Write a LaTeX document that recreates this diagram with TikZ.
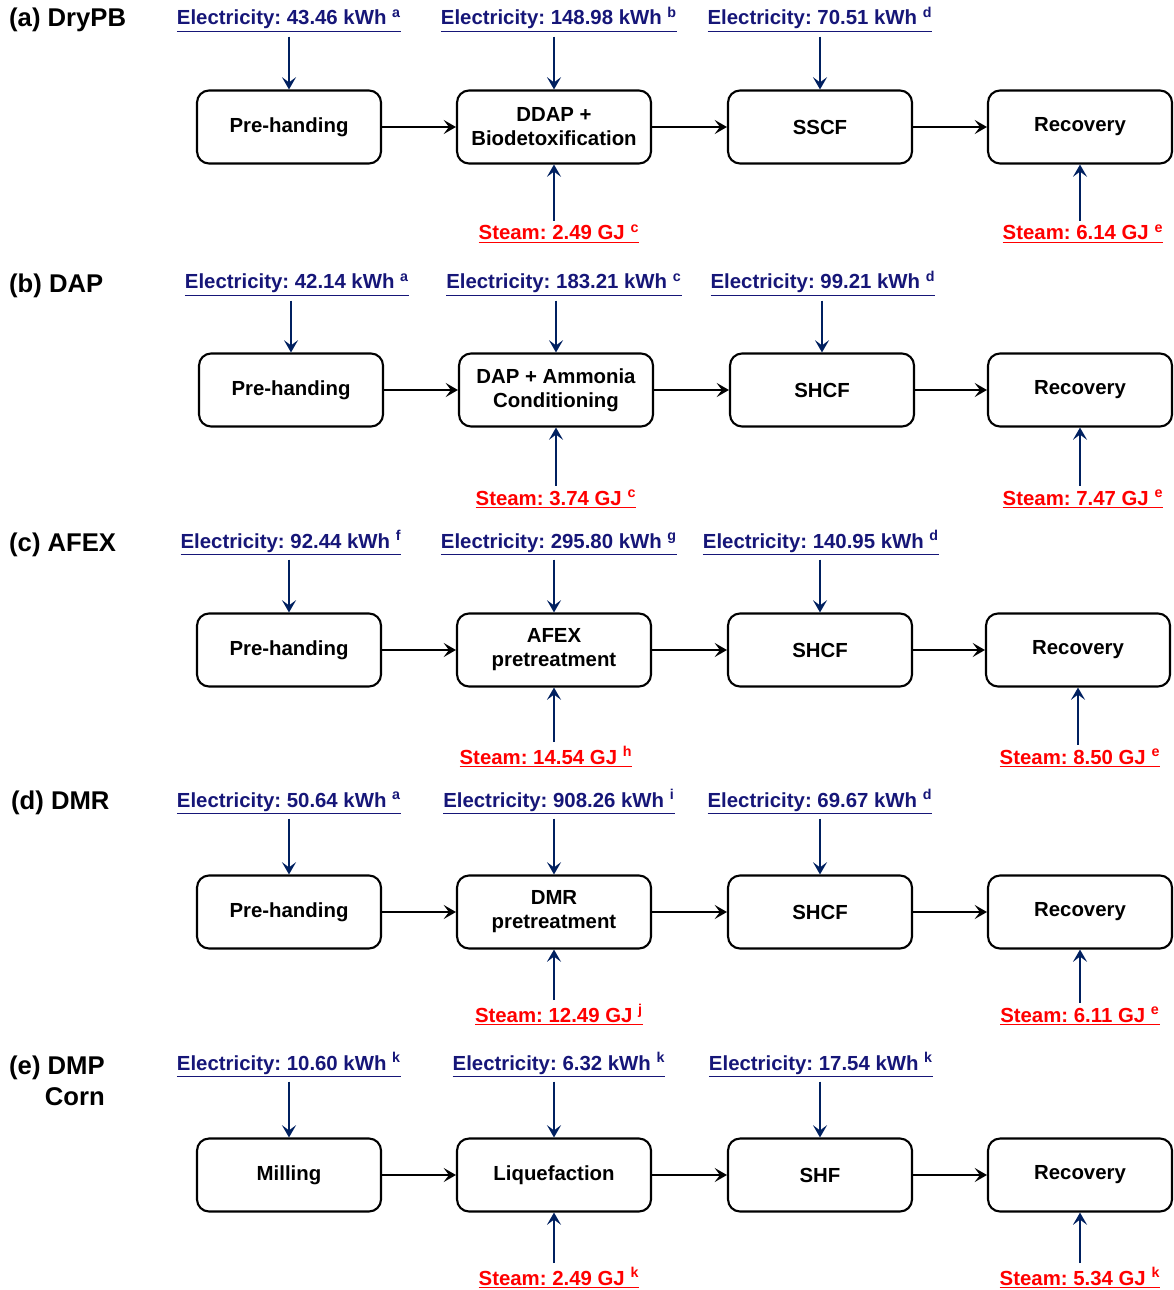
\documentclass[tikz,border=0pt]{standalone}
\usepackage{fontspec}
\setmainfont{Liberation Sans}
\usetikzlibrary{arrows.meta}

\definecolor{elecblue}{RGB}{22,22,120}
\definecolor{arrowblue}{RGB}{0,32,96}
\definecolor{steamred}{RGB}{255,0,0}

\newcommand\procfont{\fontsize{11.6}{13.6}\selectfont\bfseries}
\newcommand\panelfont{\fontsize{14.6}{17.6}\selectfont\bfseries}
\frenchspacing

\begin{document}
\begin{tikzpicture}[
    x=0.02cm, y=-0.02cm,
    proc/.style={rectangle,draw=black,line width=1.2pt,rounded corners=0.24cm,
        minimum width=3.68cm,minimum height=1.46cm,align=center,font=\procfont},
    wide/.style={minimum width=3.88cm},
    elec/.style={anchor=base,text=elecblue,font=\procfont,inner sep=2pt},
    steam/.style={anchor=base,text=steamred,font=\procfont,inner sep=2pt},
    panel/.style={anchor=west,align=right,font=\panelfont},
    supply/.style={draw=arrowblue,line width=1.3pt,
        -{Stealth[length=7pt,width=8pt,inset=3pt]}},
    flow/.style={draw=black,line width=1.2pt,
        -{Stealth[length=7pt,width=8pt,inset=3pt]}},
]
\useasboundingbox (0,0) rectangle (1173,1290);

% (a) DryPB
\node[panel] (pa) at (3,20) {(a) DryPB};
\node[proc] (a1) at (289,127) {Pre-handing};
\node[proc,wide] (a2) at (554,127) {DDAP +\\Biodetoxification};
\node[proc] (a3) at (820,127) {SSCF};
\node[proc] (a4) at (1080,127) {Recovery};
\node[elec] (ae1) at (289,25) {\underline{Electricity: 43.46 kWh \textsuperscript{a}}};
\node[elec] (ae2) at (559,25) {\underline{Electricity: 148.98 kWh \textsuperscript{b}}};
\node[elec] (ae3) at (820,25) {\underline{Electricity: 70.51 kWh \textsuperscript{d}}};
\node[steam] (as2) at (559,240) {\underline{Steam: 2.49 GJ \textsuperscript{c}}};
\node[steam] (as4) at (1083,240) {\underline{Steam: 6.14 GJ \textsuperscript{e}}};
\draw[flow] (a1) -- (a2);
\draw[flow] (a2) -- (a3);
\draw[flow] (a3) -- (a4);
\draw[supply] (a1.north |- ae1.south) -- (a1.north);
\draw[supply] (a2.north |- ae2.south) -- (a2.north);
\draw[supply] (a3.north |- ae3.south) -- (a3.north);
\draw[supply] (a2.south |- as2.north) -- (a2.south);
\draw[supply] (a4.south |- as4.north) -- (a4.south);

% (b) DAP
\node[panel] (pb) at (3,286) {(b) DAP};
\node[proc] (b1) at (291,390) {Pre-handing};
\node[proc,wide] (b2) at (556,390) {DAP + Ammonia\\Conditioning};
\node[proc] (b3) at (822,390) {SHCF};
\node[proc] (b4) at (1080,390) {Recovery};
\node[elec] (be1) at (297,289) {\underline{Electricity: 42.14 kWh \textsuperscript{a}}};
\node[elec] (be2) at (564,289) {\underline{Electricity: 183.21 kWh \textsuperscript{c}}};
\node[elec] (be3) at (823,289) {\underline{Electricity: 99.21 kWh \textsuperscript{d}}};
\node[steam] (bs2) at (556,505) {\underline{Steam: 3.74 GJ \textsuperscript{c}}};
\node[steam] (bs4) at (1083,505) {\underline{Steam: 7.47 GJ \textsuperscript{e}}};
\draw[flow] (b1) -- (b2);
\draw[flow] (b2) -- (b3);
\draw[flow] (b3) -- (b4);
\draw[supply] (b1.north |- be1.south) -- (b1.north);
\draw[supply] (b2.north |- be2.south) -- (b2.north);
\draw[supply] (b3.north |- be3.south) -- (b3.north);
\draw[supply] (b2.south |- bs2.north) -- (b2.south);
\draw[supply] (b4.south |- bs4.north) -- (b4.south);

% (c) AFEX
\node[panel] (pc) at (3,545) {(c) AFEX};
\node[proc] (c1) at (289,650) {Pre-handing};
\node[proc,wide] (c2) at (554,650) {AFEX\\pretreatment};
\node[proc] (c3) at (820,650) {SHCF};
\node[proc] (c4) at (1078,650) {Recovery};
\node[elec] (ce1) at (291,548) {\underline{Electricity: 92.44 kWh \textsuperscript{f}}};
\node[elec] (ce2) at (559,548) {\underline{Electricity: 295.80 kWh \textsuperscript{g}}};
\node[elec] (ce3) at (821,548) {\underline{Electricity: 140.95 kWh \textsuperscript{d}}};
\node[steam] (cs2) at (546,764) {\underline{Steam: 14.54 GJ \textsuperscript{h}}};
\node[steam] (cs4) at (1080,764) {\underline{Steam: 8.50 GJ \textsuperscript{e}}};
\draw[flow] (c1) -- (c2);
\draw[flow] (c2) -- (c3);
\draw[flow] (c3) -- (c4);
\draw[supply] (c1.north |- ce1.south) -- (c1.north);
\draw[supply] (c2.north |- ce2.south) -- (c2.north);
\draw[supply] (c3.north |- ce3.south) -- (c3.north);
\draw[supply] (c2.south |- cs2.north) -- (c2.south);
\draw[supply] (c4.south |- cs4.north) -- (c4.south);

% (d) DMR
\node[panel] (pd) at (5,803) {(d) DMR};
\node[proc] (d1) at (289,912) {Pre-handing};
\node[proc,wide] (d2) at (554,912) {DMR\\pretreatment};
\node[proc] (d3) at (820,912) {SHCF};
\node[proc] (d4) at (1080,912) {Recovery};
\node[elec] (de1) at (289,807) {\underline{Electricity: 50.64 kWh \textsuperscript{a}}};
\node[elec] (de2) at (559,807) {\underline{Electricity: 908.26 kWh \textsuperscript{i}}};
\node[elec] (de3) at (820,807) {\underline{Electricity: 69.67 kWh \textsuperscript{d}}};
\node[steam] (ds2) at (559,1022) {\underline{Steam: 12.49 GJ \textsuperscript{j}}};
\node[steam] (ds4) at (1080,1022) {\underline{Steam: 6.11 GJ \textsuperscript{e}}};
\draw[flow] (d1) -- (d2);
\draw[flow] (d2) -- (d3);
\draw[flow] (d3) -- (d4);
\draw[supply] (d1.north |- de1.south) -- (d1.north);
\draw[supply] (d2.north |- de2.south) -- (d2.north);
\draw[supply] (d3.north |- de3.south) -- (d3.north);
\draw[supply] (d2.south |- ds2.north) -- (d2.south);
\draw[supply] (d4.south |- ds4.north) -- (d4.south);

% (e) DMP Corn
\node[panel] (pe) at (3,1081) {(e) DMP\\Corn};
\node[proc] (e1) at (289,1175) {Milling};
\node[proc,wide] (e2) at (554,1175) {Liquefaction};
\node[proc] (e3) at (820,1175) {SHF};
\node[proc] (e4) at (1080,1175) {Recovery};
\node[elec] (ee1) at (289,1070) {\underline{Electricity: 10.60 kWh \textsuperscript{k}}};
\node[elec] (ee2) at (559,1070) {\underline{Electricity: 6.32 kWh \textsuperscript{k}}};
\node[elec] (ee3) at (821,1070) {\underline{Electricity: 17.54 kWh \textsuperscript{k}}};
\node[steam] (es2) at (559,1285) {\underline{Steam: 2.49 GJ \textsuperscript{k}}};
\node[steam] (es4) at (1080,1285) {\underline{Steam: 5.34 GJ \textsuperscript{k}}};
\draw[flow] (e1) -- (e2);
\draw[flow] (e2) -- (e3);
\draw[flow] (e3) -- (e4);
\draw[supply] (e1.north |- ee1.south) -- (e1.north);
\draw[supply] (e2.north |- ee2.south) -- (e2.north);
\draw[supply] (e3.north |- ee3.south) -- (e3.north);
\draw[supply] (e2.south |- es2.north) -- (e2.south);
\draw[supply] (e4.south |- es4.north) -- (e4.south);
\end{tikzpicture}
\end{document}
